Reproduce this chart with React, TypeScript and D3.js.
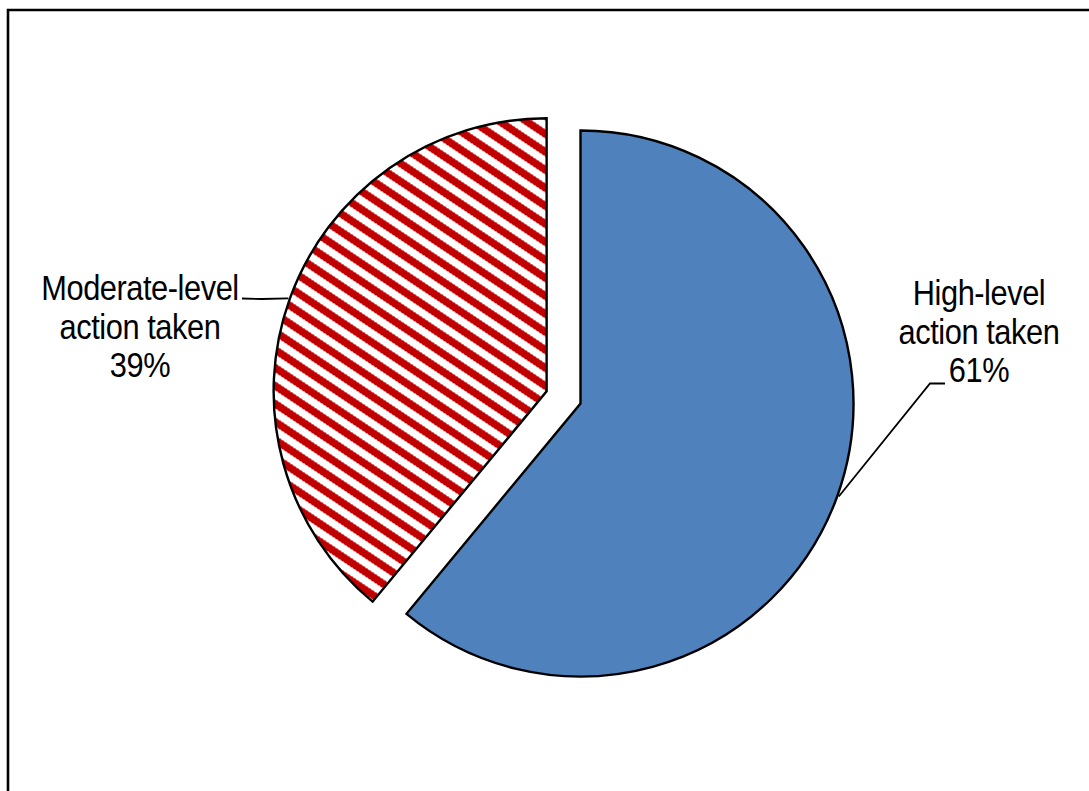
import React from "react";
import * as d3 from "d3";

// Survey result: share of respondents by level of action taken
const categories = ["High-level action taken", "Moderate-level action taken"];
const labelLines = [
  ["High-level", "action taken"],
  ["Moderate-level", "action taken"],
];
const values = [61, 39];

const WIDTH = 1089;
const HEIGHT = 791;
const CX = 580.5;
const CY = 403.5;
const R = 273;
const EXPLODE = 36;

const BLUE = "#4F81BD";
const RED = "#C00000";
const FONT = "'Liberation Sans', Arial, sans-serif";

export default function App() {
  const pie = d3
    .pie<number>()
    .sort(null)
    .value((d) => d);
  const slices = pie(values);
  const arc = d3.arc<d3.PieArcDatum<number>>().innerRadius(0).outerRadius(R);

  // The moderate-level slice is pulled out from the centre
  const offsets = slices.map((s, i) => {
    if (i !== 1) return [0, 0];
    const mid = (s.startAngle + s.endAngle) / 2;
    return [EXPLODE * Math.sin(mid), -EXPLODE * Math.cos(mid)];
  });

  // Pattern tile for the downward diagonal hatch
  const PW = 27;
  const PH = 18;
  const band = 0.5 * PW;
  const hatchA = `M0,0 L${band},0 L${PW},${PH - (band * PH) / PW} L${PW},${PH} Z`;
  const hatchB = `M0,${PH - (band * PH) / PW} L0,${PH} L${band},${PH} Z`;

  const labelPos = [
    { x: 979, y: 305, hook: [945, 383.5, 930, 383.5] },
    { x: 140, y: 300, hook: [242, 298.5, 262, 299] },
  ];
  const lineGap = 38.7;
  const squeeze = 0.88;

  return (
    <svg
      width={WIDTH}
      height={HEIGHT}
      style={{ position: "absolute", left: 0, top: 0, background: "#fff" }}
    >
      <defs>
        <pattern
          id="hatch"
          patternUnits="userSpaceOnUse"
          width={PW}
          height={PH}
        >
          <rect width={PW} height={PH} fill="#fff" />
          <path d={hatchA} fill={RED} shapeRendering="crispEdges" />
          <path d={hatchB} fill={RED} shapeRendering="crispEdges" />
        </pattern>
      </defs>

      {/* chart frame */}
      <path
        d={`M8,${HEIGHT} V10 H${WIDTH}`}
        fill="none"
        stroke="#000"
        strokeWidth={2.6}
      />

      {slices.map((s, i) => (
        <g
          key={categories[i]}
          transform={`translate(${CX + offsets[i][0]},${CY + offsets[i][1]})`}
        >
          <path
            d={arc(s) ?? ""}
            fill={i === 0 ? BLUE : "url(#hatch)"}
            stroke="#000"
            strokeWidth={2.4}
            strokeLinejoin="miter"
          />
        </g>
      ))}

      {slices.map((s, i) => {
        const mid = (s.startAngle + s.endAngle) / 2;
        const ex = CX + offsets[i][0] + (R + 1.5) * Math.sin(mid);
        const ey = CY + offsets[i][1] - (R + 1.5) * Math.cos(mid);
        const lp = labelPos[i];
        const lines = [...labelLines[i], `${values[i]}%`];
        return (
          <g key={`label-${i}`}>
            <polyline
              points={`${lp.hook[0]},${lp.hook[1]} ${lp.hook[2]},${lp.hook[3]} ${ex},${ey}`}
              fill="none"
              stroke="#000"
              strokeWidth={1.8}
            />
            <g transform={`translate(${lp.x},${lp.y}) scale(${squeeze},1)`}>
              <text
                x={0}
                y={0}
                textAnchor="middle"
                fontFamily={FONT}
                fontSize={35}
                letterSpacing={-0.5}
                fill="#000"
              >
                {lines.map((ln, k) => (
                  <tspan key={k} x={0} y={k * lineGap}>
                    {ln}
                  </tspan>
                ))}
              </text>
            </g>
          </g>
        );
      })}
    </svg>
  );
}
